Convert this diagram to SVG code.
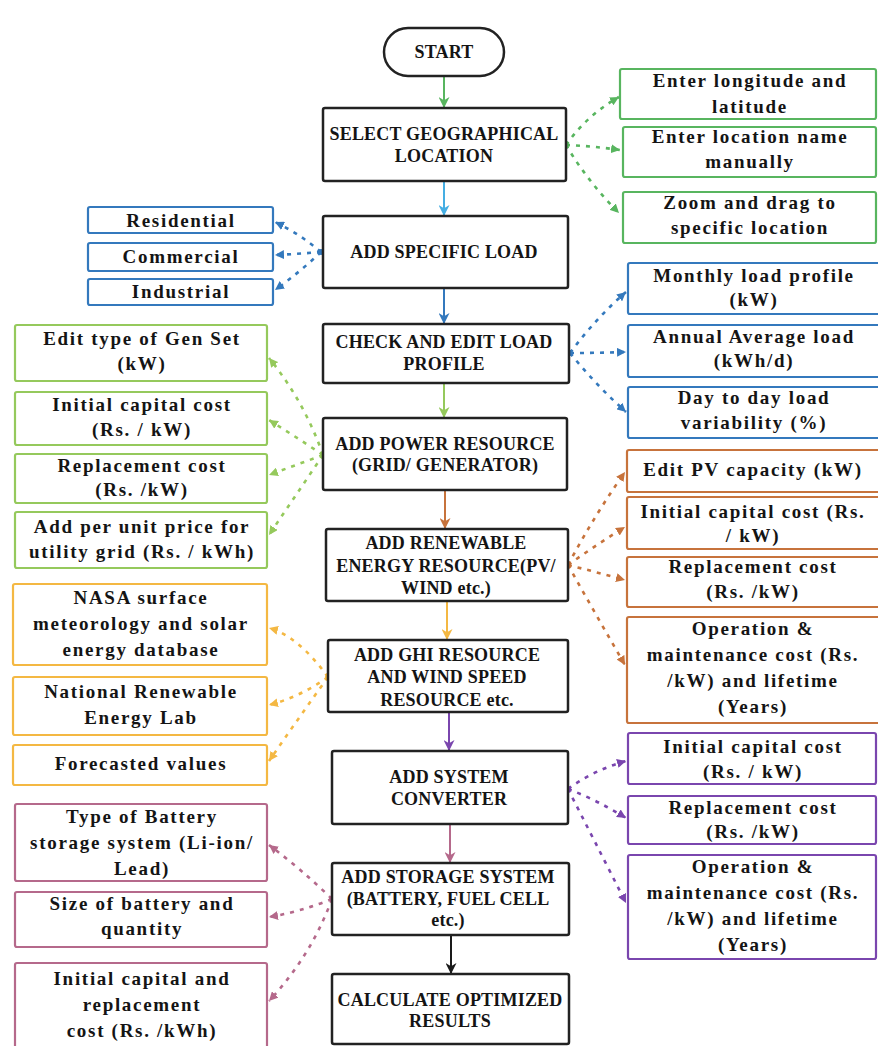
<svg xmlns="http://www.w3.org/2000/svg" width="878" height="1046" viewBox="0 0 878 1046">
<style>
text{font-family:"Liberation Serif","Times New Roman",serif;font-weight:bold;font-size:18px;fill:#141414;text-anchor:middle}
.c{letter-spacing:0.2px}
.s{letter-spacing:1.7px;font-size:19px}
.main{fill:#fff;stroke:#222;stroke-width:2.5}
.side{fill:#fff;stroke-width:2.2}
.dot{fill:none;stroke-width:2.6;stroke-dasharray:4 6}
.arr{fill:none;stroke-width:2}
.gr{stroke:#58b55f}.lb{stroke:#45aee3}.bl{stroke:#3479bd}.lg{stroke:#95c95c}.or{stroke:#c7733c}.ye{stroke:#f4b843}.pu{stroke:#7a46ae}.pk{stroke:#b5698b}.bk{stroke:#1a1a1a}
</style>
<defs>
<marker id="a-gr" viewBox="0 0 10 10" refX="10" refY="5" markerWidth="9" markerHeight="9" markerUnits="userSpaceOnUse" orient="auto"><path d="M0,0 L10,5 L0,10 z" fill="#58b55f"/></marker>
<marker id="a-bl" viewBox="0 0 10 10" refX="10" refY="5" markerWidth="9" markerHeight="9" markerUnits="userSpaceOnUse" orient="auto"><path d="M0,0 L10,5 L0,10 z" fill="#3479bd"/></marker>
<marker id="a-lg" viewBox="0 0 10 10" refX="10" refY="5" markerWidth="9" markerHeight="9" markerUnits="userSpaceOnUse" orient="auto"><path d="M0,0 L10,5 L0,10 z" fill="#95c95c"/></marker>
<marker id="a-or" viewBox="0 0 10 10" refX="10" refY="5" markerWidth="9" markerHeight="9" markerUnits="userSpaceOnUse" orient="auto"><path d="M0,0 L10,5 L0,10 z" fill="#c7733c"/></marker>
<marker id="a-ye" viewBox="0 0 10 10" refX="10" refY="5" markerWidth="9" markerHeight="9" markerUnits="userSpaceOnUse" orient="auto"><path d="M0,0 L10,5 L0,10 z" fill="#f4b843"/></marker>
<marker id="a-pu" viewBox="0 0 10 10" refX="10" refY="5" markerWidth="9" markerHeight="9" markerUnits="userSpaceOnUse" orient="auto"><path d="M0,0 L10,5 L0,10 z" fill="#7a46ae"/></marker>
<marker id="a-pk" viewBox="0 0 10 10" refX="10" refY="5" markerWidth="9" markerHeight="9" markerUnits="userSpaceOnUse" orient="auto"><path d="M0,0 L10,5 L0,10 z" fill="#b5698b"/></marker>
<marker id="m-gr" viewBox="0 0 10 10" refX="10" refY="5" markerWidth="11" markerHeight="11" markerUnits="userSpaceOnUse" orient="auto"><path d="M0,0 L10,5 L0,10 L3,5 z" fill="#58b55f"/></marker>
<marker id="m-lb" viewBox="0 0 10 10" refX="10" refY="5" markerWidth="11" markerHeight="11" markerUnits="userSpaceOnUse" orient="auto"><path d="M0,0 L10,5 L0,10 L3,5 z" fill="#45aee3"/></marker>
<marker id="m-bl" viewBox="0 0 10 10" refX="10" refY="5" markerWidth="11" markerHeight="11" markerUnits="userSpaceOnUse" orient="auto"><path d="M0,0 L10,5 L0,10 L3,5 z" fill="#3479bd"/></marker>
<marker id="m-lg" viewBox="0 0 10 10" refX="10" refY="5" markerWidth="11" markerHeight="11" markerUnits="userSpaceOnUse" orient="auto"><path d="M0,0 L10,5 L0,10 L3,5 z" fill="#95c95c"/></marker>
<marker id="m-or" viewBox="0 0 10 10" refX="10" refY="5" markerWidth="11" markerHeight="11" markerUnits="userSpaceOnUse" orient="auto"><path d="M0,0 L10,5 L0,10 L3,5 z" fill="#c7733c"/></marker>
<marker id="m-ye" viewBox="0 0 10 10" refX="10" refY="5" markerWidth="11" markerHeight="11" markerUnits="userSpaceOnUse" orient="auto"><path d="M0,0 L10,5 L0,10 L3,5 z" fill="#f4b843"/></marker>
<marker id="m-pu" viewBox="0 0 10 10" refX="10" refY="5" markerWidth="11" markerHeight="11" markerUnits="userSpaceOnUse" orient="auto"><path d="M0,0 L10,5 L0,10 L3,5 z" fill="#7a46ae"/></marker>
<marker id="m-pk" viewBox="0 0 10 10" refX="10" refY="5" markerWidth="11" markerHeight="11" markerUnits="userSpaceOnUse" orient="auto"><path d="M0,0 L10,5 L0,10 L3,5 z" fill="#b5698b"/></marker>
<marker id="m-bk" viewBox="0 0 10 10" refX="10" refY="5" markerWidth="11" markerHeight="11" markerUnits="userSpaceOnUse" orient="auto"><path d="M0,0 L10,5 L0,10 L3,5 z" fill="#1a1a1a"/></marker>
</defs>
<rect width="878" height="1046" fill="#fff"/>

<g id="connectors">
<path class="arr gr" d="M444,76 V108" marker-end="url(#m-gr)"/>
<path class="arr lb" d="M444,181 V216" marker-end="url(#m-lb)"/>
<path class="arr bl" d="M444,288 V324" marker-end="url(#m-bl)"/>
<path class="arr lg" d="M444,383 V418" marker-end="url(#m-lg)"/>
<path class="arr or" d="M445,490 V529" marker-end="url(#m-or)"/>
<path class="arr ye" d="M447,601 V640" marker-end="url(#m-ye)"/>
<path class="arr pu" d="M449,712 V751" marker-end="url(#m-pu)"/>
<path class="arr pk" d="M450,824 V863" marker-end="url(#m-pk)"/>
<path class="arr bk" d="M451,935 V974" marker-end="url(#m-bk)"/>

<path class="dot gr" d="M566,145 Q587,115 619,97" marker-end="url(#a-gr)"/>
<path class="dot gr" d="M566,145 Q593,146 620,150" marker-end="url(#a-gr)"/>
<path class="dot gr" d="M566,145 Q588,182 619,213" marker-end="url(#a-gr)"/>
<circle cx="566" cy="145" r="3" fill="#58b55f"/>

<path class="dot bl" d="M321,252 Q300,234 275,222" marker-end="url(#a-bl)"/>
<path class="dot bl" d="M321,252 Q298,254 275,255" marker-end="url(#a-bl)"/>
<path class="dot bl" d="M321,252 Q300,272 275,290" marker-end="url(#a-bl)"/>
<circle cx="321" cy="252" r="3" fill="#3479bd"/>

<path class="dot bl" d="M570,353 Q596,318 626,292" marker-end="url(#a-bl)"/>
<path class="dot bl" d="M570,353 Q598,353 626,352" marker-end="url(#a-bl)"/>
<path class="dot bl" d="M570,353 Q596,385 626,412" marker-end="url(#a-bl)"/>
<circle cx="570" cy="353" r="3" fill="#3479bd"/>

<path class="dot lg" d="M323,455 Q304,401 269,358" marker-end="url(#a-lg)"/>
<path class="dot lg" d="M323,455 Q296,437 269,420" marker-end="url(#a-lg)"/>
<path class="dot lg" d="M323,455 Q296,465 269,475" marker-end="url(#a-lg)"/>
<path class="dot lg" d="M323,455 Q296,495 269,535" marker-end="url(#a-lg)"/>
<circle cx="323" cy="455" r="3" fill="#95c95c"/>

<path class="dot or" d="M568,565 Q594,516 625,472" marker-end="url(#a-or)"/>
<path class="dot or" d="M568,565 Q596,545 625,527" marker-end="url(#a-or)"/>
<path class="dot or" d="M568,565 Q596,572 625,580" marker-end="url(#a-or)"/>
<path class="dot or" d="M568,565 Q596,615 625,665" marker-end="url(#a-or)"/>
<circle cx="568" cy="565" r="3" fill="#c7733c"/>

<path class="dot ye" d="M328,677 Q298,636 269,628" marker-end="url(#a-ye)"/>
<path class="dot ye" d="M328,677 Q300,697 269,705" marker-end="url(#a-ye)"/>
<path class="dot ye" d="M328,677 Q298,719 269,761" marker-end="url(#a-ye)"/>
<circle cx="328" cy="677" r="3" fill="#f4b843"/>

<path class="dot pu" d="M568,789 Q594,770 626,761" marker-end="url(#a-pu)"/>
<path class="dot pu" d="M568,789 Q597,800 626,818" marker-end="url(#a-pu)"/>
<path class="dot pu" d="M568,789 Q594,840 626,903" marker-end="url(#a-pu)"/>
<circle cx="568" cy="789" r="3" fill="#7a46ae"/>

<path class="dot pk" d="M332,899 Q300,868 269,845" marker-end="url(#a-pk)"/>
<path class="dot pk" d="M332,899 Q300,912 269,917" marker-end="url(#a-pk)"/>
<path class="dot pk" d="M332,899 Q311,956 269,1001" marker-end="url(#a-pk)"/>
<circle cx="332" cy="899" r="3" fill="#b5698b"/>
</g>

<g id="start"><rect class="main" x="384" y="28" width="120" height="48" rx="24"/><text class="c" x="444" y="58">START</text></g>
<g id="select-location"><rect class="main" x="323" y="108" width="243" height="73" rx="2"/><text class="c" x="444" y="140">SELECT GEOGRAPHICAL</text><text class="c" x="444" y="162">LOCATION</text></g>
<g id="add-load"><rect class="main" x="323" y="216" width="245" height="72" rx="2"/><text class="c" x="444" y="258">ADD SPECIFIC LOAD</text></g>
<g id="check-load"><rect class="main" x="323" y="324" width="246" height="59" rx="2"/><text class="c" x="444" y="348">CHECK AND EDIT LOAD</text><text class="c" x="444" y="370">PROFILE</text></g>
<g id="add-power"><rect class="main" x="323" y="418" width="244" height="72" rx="2"/><text class="c" x="445" y="450">ADD POWER RESOURCE</text><text class="c" x="445" y="471">(GRID/ GENERATOR)</text></g>
<g id="add-renewable"><rect class="main" x="326" y="529" width="242" height="72" rx="2"/><text class="c" x="446" y="549">ADD RENEWABLE</text><text class="c" x="446" y="572">ENERGY RESOURCE(PV/</text><text class="c" x="446" y="594">WIND etc.)</text></g>
<g id="add-ghi"><rect class="main" x="328" y="640" width="240" height="72" rx="2"/><text class="c" x="447" y="661">ADD GHI RESOURCE</text><text class="c" x="447" y="683">AND WIND SPEED</text><text class="c" x="447" y="706">RESOURCE etc.</text></g>
<g id="add-converter"><rect class="main" x="332" y="751" width="236" height="73" rx="2"/><text class="c" x="449" y="783">ADD SYSTEM</text><text class="c" x="449" y="805">CONVERTER</text></g>
<g id="add-storage"><rect class="main" x="332" y="863" width="237" height="72" rx="2"/><text class="c" x="448" y="883">ADD STORAGE SYSTEM</text><text class="c" x="448" y="905">(BATTERY, FUEL CELL</text><text class="c" x="448" y="926">etc.)</text></g>
<g id="calculate"><rect class="main" x="332" y="974" width="237" height="70" rx="2"/><text class="c" x="450" y="1006">CALCULATE OPTIMIZED</text><text class="c" x="450" y="1027">RESULTS</text></g>

<g id="geo-longlat"><rect class="side gr" x="620" y="69" width="256" height="50" rx="2"/><text class="s" x="750" y="87">Enter longitude and</text><text class="s" x="750" y="113">latitude</text></g>
<g id="geo-name"><rect class="side gr" x="623" y="127" width="253" height="50" rx="2"/><text class="s" x="750" y="143">Enter location name</text><text class="s" x="750" y="168">manually</text></g>
<g id="geo-zoom"><rect class="side gr" x="623" y="192" width="253" height="51" rx="2"/><text class="s" x="750" y="209">Zoom and drag to</text><text class="s" x="750" y="234">specific location</text></g>

<g id="load-res"><rect class="side bl" x="88" y="207" width="185" height="26" rx="2"/><text class="s" x="181" y="227">Residential</text></g>
<g id="load-com"><rect class="side bl" x="88" y="243" width="185" height="28" rx="2"/><text class="s" x="181" y="263">Commercial</text></g>
<g id="load-ind"><rect class="side bl" x="88" y="279" width="185" height="26" rx="2"/><text class="s" x="181" y="298">Industrial</text></g>

<g id="prof-monthly"><rect class="side bl" x="628" y="263" width="254" height="51" rx="2"/><text class="s" x="754" y="282">Monthly load profile</text><text class="s" x="754" y="306">(kW)</text></g>
<g id="prof-annual"><rect class="side bl" x="628" y="325" width="254" height="52" rx="2"/><text class="s" x="754" y="343">Annual Average load</text><text class="s" x="754" y="367">(kWh/d)</text></g>
<g id="prof-var"><rect class="side bl" x="628" y="387" width="254" height="51" rx="2"/><text class="s" x="754" y="404">Day to day load</text><text class="s" x="754" y="429">variability (%)</text></g>

<g id="gen-type"><rect class="side lg" x="15" y="325" width="252" height="56" rx="2"/><text class="s" x="142" y="345">Edit type of Gen Set</text><text class="s" x="142" y="370">(kW)</text></g>
<g id="gen-capital"><rect class="side lg" x="15" y="392" width="252" height="53" rx="2"/><text class="s" x="142" y="411">Initial capital cost</text><text class="s" x="142" y="436">(Rs. / kW)</text></g>
<g id="gen-replace"><rect class="side lg" x="15" y="454" width="252" height="49" rx="2"/><text class="s" x="142" y="472">Replacement cost</text><text class="s" x="142" y="496">(Rs. /kW)</text></g>
<g id="gen-grid"><rect class="side lg" x="15" y="512" width="252" height="56" rx="2"/><text class="s" x="142" y="533">Add per unit price for</text><text class="s" x="142" y="558">utility grid (Rs. / kWh)</text></g>

<g id="pv-capacity"><rect class="side or" x="627" y="450" width="255" height="42" rx="2"/><text class="s" x="753" y="476">Edit PV capacity (kW)</text></g>
<g id="pv-capital"><rect class="side or" x="627" y="497" width="255" height="52" rx="2"/><text class="s" x="753" y="518">Initial capital cost (Rs.</text><text class="s" x="753" y="542">/ kW)</text></g>
<g id="pv-replace"><rect class="side or" x="627" y="557" width="255" height="50" rx="2"/><text class="s" x="753" y="573">Replacement cost</text><text class="s" x="753" y="598">(Rs. /kW)</text></g>
<g id="pv-om"><rect class="side or" x="627" y="617" width="255" height="106" rx="2"/><text class="s" x="753" y="635">Operation &amp;</text><text class="s" x="753" y="661">maintenance cost (Rs.</text><text class="s" x="753" y="687">/kW) and lifetime</text><text class="s" x="753" y="713">(Years)</text></g>

<g id="ghi-nasa"><rect class="side ye" x="13" y="584" width="254" height="81" rx="2"/><text class="s" x="141" y="604">NASA surface</text><text class="s" x="141" y="630">meteorology and solar</text><text class="s" x="141" y="656">energy database</text></g>
<g id="ghi-nrel"><rect class="side ye" x="13" y="677" width="254" height="58" rx="2"/><text class="s" x="141" y="698">National Renewable</text><text class="s" x="141" y="724">Energy Lab</text></g>
<g id="ghi-forecast"><rect class="side ye" x="13" y="745" width="254" height="40" rx="2"/><text class="s" x="141" y="770">Forecasted values</text></g>

<g id="conv-capital"><rect class="side pu" x="628" y="733" width="248" height="51" rx="2"/><text class="s" x="753" y="753">Initial capital cost</text><text class="s" x="753" y="778">(Rs. / kW)</text></g>
<g id="conv-replace"><rect class="side pu" x="628" y="796" width="248" height="48" rx="2"/><text class="s" x="753" y="814">Replacement cost</text><text class="s" x="753" y="838">(Rs. /kW)</text></g>
<g id="conv-om"><rect class="side pu" x="628" y="855" width="248" height="104" rx="2"/><text class="s" x="753" y="873">Operation &amp;</text><text class="s" x="753" y="899">maintenance cost (Rs.</text><text class="s" x="753" y="925">/kW) and lifetime</text><text class="s" x="753" y="951">(Years)</text></g>

<g id="bat-type"><rect class="side pk" x="15" y="804" width="252" height="77" rx="2"/><text class="s" x="142" y="823">Type of Battery</text><text class="s" x="142" y="849">storage system (Li-ion/</text><text class="s" x="142" y="875">Lead)</text></g>
<g id="bat-size"><rect class="side pk" x="15" y="892" width="252" height="55" rx="2"/><text class="s" x="142" y="910">Size of battery and</text><text class="s" x="142" y="935">quantity</text></g>
<g id="bat-cost"><rect class="side pk" x="15" y="963" width="252" height="90" rx="2"/><text class="s" x="142" y="985">Initial capital and</text><text class="s" x="142" y="1011">replacement</text><text class="s" x="142" y="1037">cost (Rs. /kWh)</text></g>
</svg>
